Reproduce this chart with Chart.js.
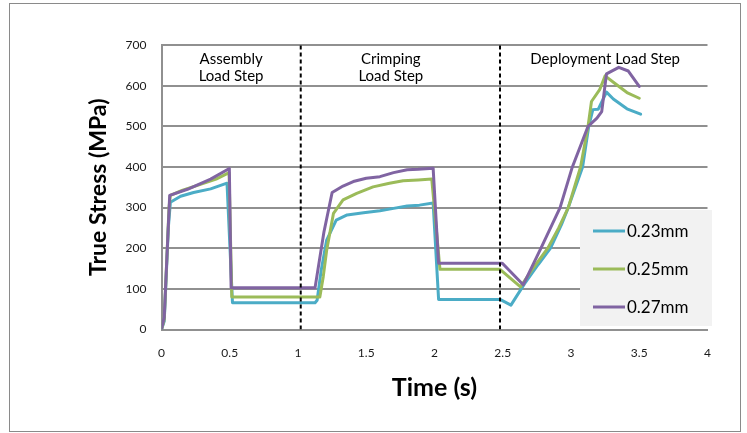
<!DOCTYPE html>
<html>
<head>
<meta charset="utf-8">
<script src="https://cdn.jsdelivr.net/npm/chart.js@4/dist/chart.umd.min.js"></script>
<style>
  html, body { margin: 0; padding: 0; background: #ffffff; }
  canvas { display: block; }
</style>
</head>
<body>
<canvas id="stressChart" width="747" height="433"></canvas>
<script>
// Strut thickness series
const seriesNames = ['0.23mm', '0.25mm', '0.27mm'];
const seriesColors = ['#4bacc6', '#9bbb59', '#8064a2'];

// Time (s) and true stress (MPa) for each thickness
const time023 = [0, 0.02, 0.05, 0.065, 0.14, 0.235, 0.36, 0.48, 0.52, 1.125, 1.14, 1.17, 1.21, 1.28, 1.36, 1.48, 1.60, 1.70, 1.80, 1.89, 1.99, 2.03, 2.48, 2.56, 2.66, 2.76, 2.85, 2.93, 2.98, 3.085, 3.13, 3.16, 3.20, 3.26, 3.31, 3.41, 3.51];
const stress023 = [0, 20, 250, 313, 328, 337, 346, 360, 66, 66, 72, 146, 220, 269, 282, 287, 292, 298, 304, 306, 311, 74, 74, 60, 113, 160, 200, 258, 300, 400, 500, 541, 542, 584, 567, 543, 530];

const time025 = [0, 0.02, 0.055, 0.065, 0.15, 0.285, 0.40, 0.495, 0.515, 1.14, 1.16, 1.185, 1.21, 1.26, 1.33, 1.43, 1.55, 1.67, 1.77, 1.88, 1.98, 2.04, 2.48, 2.63, 2.72, 2.83, 2.91, 2.98, 3.07, 3.125, 3.15, 3.21, 3.25, 3.32, 3.41, 3.50];
const stress025 = [0, 25, 300, 330, 342, 357, 370, 386, 80, 80, 80, 130, 195, 286, 319, 335, 351, 360, 366, 368, 370, 148, 148, 105, 150, 200, 250, 300, 400, 500, 561, 590, 624, 606, 583, 569];

const time027 = [0, 0.02, 0.06, 0.19, 0.36, 0.497, 0.51, 1.125, 1.19, 1.25, 1.33, 1.405, 1.50, 1.60, 1.70, 1.80, 1.88, 1.99, 2.03, 2.497, 2.65, 2.78, 2.92, 3.01, 3.125, 3.19, 3.225, 3.26, 3.35, 3.42, 3.50];
const stress027 = [0, 30, 330, 345, 370, 396, 103, 103, 240, 337, 353, 364, 372, 376, 386, 393, 394, 397, 163, 163, 110, 200, 300, 400, 500, 520, 536, 629, 645, 636, 598];

// Load step boundaries (s) and their captions
const stepBoundaries = [1.02, 2.48];
const stepLabels = [['Assembly', 'Load Step'], ['Crimping', 'Load Step'], ['Deployment Load Step']];
const stepLabelTimes = [0.51, 1.68, 3.25];

// Axis tick labels
const xTickLabels = ['0', '0.5', '1', '1.5', '2', '2.5', '3', '3.5', '4'];
const yTickLabels = ['0', '100', '200', '300', '400', '500', '600', '700'];

const allTimes = [time023, time025, time027];
const allStress = [stress023, stress025, stress027];

function toPoints(ts, vs) {
  return ts.map((t, i) => ({ x: t, y: vs[i] }));
}

const datasets = seriesNames.map((name, i) => ({
  label: name,
  data: toPoints(allTimes[i], allStress[i]),
  borderColor: seriesColors[i],
  backgroundColor: seriesColors[i],
  borderWidth: 3,
  pointRadius: 0,
  tension: 0,
  borderJoinStyle: 'round',
  borderCapStyle: 'round',
  order: 3 - i
}));

stepBoundaries.forEach((t) => {
  datasets.push({
    label: 'boundary',
    data: [{ x: t, y: 0 }, { x: t, y: 700 }],
    borderColor: '#000000',
    borderWidth: 2,
    borderDash: [4, 3],
    pointRadius: 0,
    order: -1
  });
});

const framePlugin = {
  id: 'frame',
  beforeDraw(chart) {
    const ctx = chart.ctx;
    ctx.save();
    ctx.fillStyle = '#ffffff';
    ctx.fillRect(0, 0, chart.width, chart.height);
    ctx.strokeStyle = '#8a8a8a';
    ctx.lineWidth = 1;
    ctx.strokeRect(9.5, 3.5, 731, 428);
    ctx.restore();
  }
};

const stepTextPlugin = {
  id: 'stepText',
  afterDatasetsDraw(chart) {
    const ctx = chart.ctx;
    const xs = chart.scales.x;
    const top = chart.chartArea.top;
    ctx.save();
    ctx.font = '15px Lato';
    ctx.fillStyle = '#000000';
    ctx.textAlign = 'center';
    ctx.textBaseline = 'middle';
    stepLabels.forEach((lines, i) => {
      const x = xs.getPixelForValue(stepLabelTimes[i]);
      lines.forEach((line, j) => {
        ctx.fillText(line, x, top + 14 + j * 17.5);
      });
    });
    ctx.restore();
  }
};

const legendBoxPlugin = {
  id: 'legendBox',
  afterDatasetsDraw(chart) {
    const ctx = chart.ctx;
    ctx.save();
    ctx.fillStyle = '#f2f2f2';
    ctx.fillRect(580, 210, 132, 116);
    ctx.font = '17px Lato';
    ctx.textAlign = 'left';
    ctx.textBaseline = 'middle';
    seriesNames.forEach((name, i) => {
      const y = 231 + i * 38;
      ctx.strokeStyle = seriesColors[i];
      ctx.lineWidth = 3;
      ctx.beginPath();
      ctx.moveTo(593, y);
      ctx.lineTo(625, y);
      ctx.stroke();
      ctx.fillStyle = '#000000';
      ctx.fillText(name, 627, y + 1);
    });
    ctx.restore();
  }
};

new Chart(document.getElementById('stressChart'), {
  type: 'line',
  data: { datasets },
  options: {
    responsive: false,
    animation: false,
    devicePixelRatio: 1,
    layout: { padding: { left: 0, right: 39.5, top: 45, bottom: 0 } },
    plugins: { legend: { display: false }, tooltip: { enabled: false } },
    scales: {
      x: {
        type: 'linear',
        min: 0,
        max: 4,
        afterFit(scale) { scale.height = 103.5; },
        grid: { display: false, drawTicks: false },
        border: { display: true, color: '#909090', width: 2 },
        ticks: {
          stepSize: 0.5,
          padding: 16,
          color: '#1a1a1a',
          font: { family: 'Lato', size: 12 },
          callback: (v, i) => xTickLabels[i]
        },
        title: {
          display: true,
          text: 'Time (s)',
          color: '#000000',
          font: { family: 'Lato', size: 25, weight: 'bold' },
          padding: { top: 0, bottom: 30 }
        }
      },
      y: {
        min: 0,
        max: 700,
        afterFit(scale) { scale.width = 161.5; },
        grid: { color: '#909090', lineWidth: 2, drawTicks: false },
        border: { display: true, color: '#909090', width: 2 },
        ticks: {
          stepSize: 100,
          padding: 15,
          color: '#1a1a1a',
          font: { family: 'Lato', size: 12 },
          callback: (v, i) => yTickLabels[i]
        },
        title: {
          display: true,
          text: 'True Stress (MPa)',
          color: '#000000',
          font: { family: 'Lato', size: 23, weight: 'bold' },
          padding: { top: 85, bottom: 0 }
        }
      }
    }
  },
  plugins: [framePlugin, stepTextPlugin, legendBoxPlugin]
});
</script>
</body>
</html>
